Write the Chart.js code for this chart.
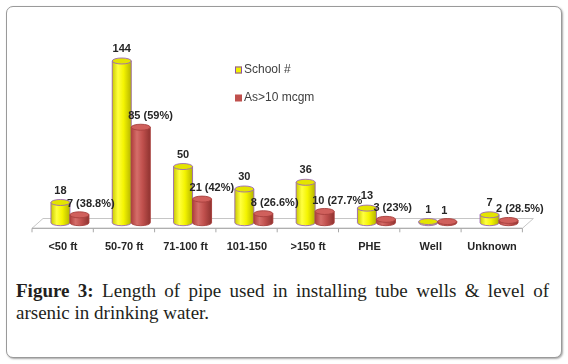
<!DOCTYPE html>
<html><head><meta charset="utf-8">
<script src="https://cdn.jsdelivr.net/npm/chart.js@4.4.1/dist/chart.umd.min.js"></script>
<style>
html,body{margin:0;padding:0;background:#fff;}
body{width:568px;height:364px;position:relative;overflow:hidden;}
#frame{position:absolute;left:6px;top:6px;width:554px;height:350px;border:1px solid #9a9a9a;border-radius:7px;box-shadow:1px 1px 2px rgba(0,0,0,0.35);background:#fff;}
#wrap{position:absolute;left:0;top:0;width:568px;height:270px;}
#cap{position:absolute;left:16px;top:280px;width:533px;font-family:"Liberation Serif","Times New Roman",serif;font-size:19px;line-height:22px;color:#231f20;}
#cap .l1{text-align:justify;text-align-last:justify;}
#cap b{font-weight:bold;}
</style>
</head>
<body>
<div id="frame"></div>
<div id="wrap"><canvas id="c" width="568" height="270"></canvas></div>
<div id="cap"><div class="l1"><b>Figure 3:</b> Length of pipe used in installing tube wells &amp; level of</div><div>arsenic in drinking water.</div></div>
<script>
const categories = ['<50 ft','50-70 ft','71-100 ft','101-150','>150 ft','PHE','Well','Unknown'];
const schoolCounts = [18,144,50,30,36,13,1,7];
const arsenicCounts = [7,85,21,8,10,3,1,2];
const schoolLabels = ['18','144','50','30','36','13','1','7'];
const arsenicLabels = ['7 (38.8%)','85 (59%)','21 (42%)','8 (26.6%)','10 (27.7%','3 (23%)','1','2 (28.5%)'];
const seriesNames = ['School #','As>10 mcgm'];

const STYLE = [
  {fill:'#f2f200', top:'#e4e400', edge:'#9a68b8', stops:[[0,'#caca00'],[0.3,'#ffff40'],[0.6,'#f4f400'],[1,'#b4b400']]},
  {fill:'#c0504d', top:'#d0605c', edge:'#a8413e', stops:[[0,'#b0403d'],[0.3,'#d56e6a'],[0.6,'#c0504d'],[1,'#8f3330']]}
];

const floorPlugin = {
  id:'floor',
  beforeDatasetsDraw(chart){
    const ctx = chart.ctx, xs = chart.scales.x, ys = chart.scales.y;
    const base = ys.getPixelForValue(0);
    const fy = base + 5.6, by = base - 4.2;
    const L = xs.left - 7.3, R = xs.right - 7.3, D = 11;
    ctx.save();
    ctx.beginPath();
    ctx.moveTo(L, fy); ctx.lineTo(R, fy); ctx.lineTo(R + D, by); ctx.lineTo(L + D, by); ctx.closePath();
    ctx.fillStyle = '#ffffff'; ctx.fill();
    ctx.strokeStyle = '#c6c6c6'; ctx.lineWidth = 1; ctx.stroke();
    ctx.beginPath();
    ctx.moveTo(L, fy); ctx.lineTo(R, fy);
    const n = categories.length;
    for (let k = 0; k <= n; k++) {
      const x = L + k * (R - L) / n;
      ctx.moveTo(x, fy); ctx.lineTo(x, fy + 4);
    }
    ctx.strokeStyle = '#a8a8a8'; ctx.stroke();
    ctx.restore();
  }
};

const cylPlugin = {
  id:'cyl',
  afterDatasetsDraw(chart){
    const ctx = chart.ctx;
    chart.data.datasets.forEach((ds, di) => {
      const st = STYLE[di];
      chart.getDatasetMeta(di).data.forEach(el => {
        const p = el.getProps(['x','y','base','width'], true);
        const w = p.width, l = p.x - w/2, r = p.x + w/2, ry = 3;
        ctx.save();
        const g = ctx.createLinearGradient(l, 0, r, 0);
        st.stops.forEach(s => g.addColorStop(s[0], s[1]));
        ctx.beginPath();
        ctx.moveTo(l, p.y);
        ctx.lineTo(l, p.base);
        ctx.ellipse(p.x, p.base, w/2, ry, 0, Math.PI, 0, true);
        ctx.lineTo(r, p.y);
        ctx.closePath();
        ctx.fillStyle = g; ctx.fill();
        ctx.strokeStyle = st.edge; ctx.lineWidth = 0.9; ctx.stroke();
        ctx.beginPath();
        ctx.ellipse(p.x, p.y, w/2, ry, 0, 0, Math.PI*2);
        ctx.fillStyle = st.top; ctx.fill();
        ctx.stroke();
        ctx.restore();
      });
    });
  }
};

const labelPlugin = {
  id:'vals',
  afterDatasetsDraw(chart){
    const ctx = chart.ctx;
    ctx.save();
    ctx.font = 'bold 11px "Liberation Sans", Arial, sans-serif';
    ctx.fillStyle = '#262626';
    ctx.textBaseline = 'middle';
    const m0 = chart.getDatasetMeta(0).data, m1 = chart.getDatasetMeta(1).data;
    m0.forEach((el, i) => {
      ctx.textAlign = 'center';
      ctx.fillText(schoolLabels[i], el.x, el.y - 12);
    });
    m1.forEach((el, i) => {
      const t = arsenicLabels[i];
      if (t.indexOf('(') < 0) {
        ctx.textAlign = 'center';
        ctx.fillText(t, el.x - 3, el.y - 11);
      } else {
        ctx.textAlign = 'left';
        ctx.fillText(t, el.x - el.width/2 - 3, el.y - 11);
      }
    });
    ctx.restore();
  }
};

const legendPlugin = {
  id:'leg',
  afterDraw(chart){
    const ctx = chart.ctx;
    ctx.save();
    ctx.font = '12px "Liberation Sans", Arial, sans-serif';
    ctx.textBaseline = 'middle'; ctx.textAlign = 'left';
    const ys = [70, 98];
    chart.data.datasets.forEach((ds, i) => {
      const y = ys[i];
      ctx.fillStyle = STYLE[i].fill;
      ctx.fillRect(235, y - 3.5, 7, 7);
      if (i === 0) { ctx.strokeStyle = '#8a4fb0'; ctx.lineWidth = 1; ctx.strokeRect(235.5, y - 3, 6, 6); }
      ctx.fillStyle = '#404040';
      ctx.fillText(ds.label, 244, y);
    });
    ctx.restore();
  }
};

new Chart(document.getElementById('c'), {
  type:'bar',
  data:{
    labels:categories,
    datasets:[
      {label:seriesNames[0], data:schoolCounts, backgroundColor:STYLE[0].fill, borderWidth:0, categoryPercentage:0.62, barPercentage:1},
      {label:seriesNames[1], data:arsenicCounts, backgroundColor:STYLE[1].fill, borderWidth:0, categoryPercentage:0.62, barPercentage:1}
    ]
  },
  options:{
    responsive:false, animation:false, events:[],
    layout:{padding:{left:39.3, right:38.3, top:43, bottom:0}},
    plugins:{legend:{display:false}, tooltip:{enabled:false}},
    scales:{
      x:{
        grid:{display:false, drawTicks:false}, border:{display:false},
        ticks:{padding:18, labelOffset:-7, color:'#262626', maxRotation:0, autoSkip:false,
               font:{family:'"Liberation Sans", Arial, sans-serif', size:11, weight:'bold'}},
        afterFit(s){ s.height = 47.3; }
      },
      y:{display:false, min:0, max:160}
    }
  },
  plugins:[floorPlugin, cylPlugin, labelPlugin, legendPlugin]
});
</script>
</body></html>
